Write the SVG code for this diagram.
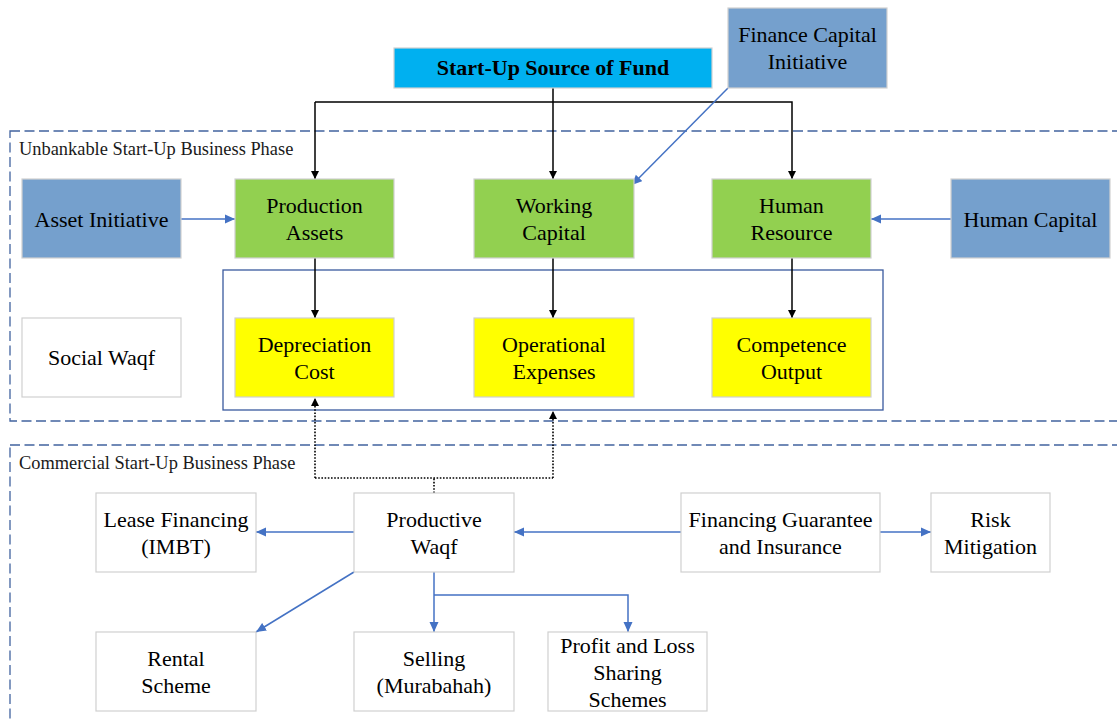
<svg xmlns="http://www.w3.org/2000/svg" width="1117" height="723" viewBox="0 0 1117 723">
  <style>
    .box { stroke: #d0d0d0; stroke-width: 1.2; }
    .t { font-size: 22px; fill: #000; text-anchor: middle; }
    .phase { font-size: 18.4px; fill: #1a1a1a; }
    .dash { fill: none; stroke: #41639f; stroke-width: 1.3; stroke-dasharray: 10 4.5; }
    .blk { fill: none; stroke: #000; stroke-width: 1.5; }
    .blu { fill: none; stroke: #4472c4; stroke-width: 1.5; }
    .dot { fill: none; stroke: #000; stroke-width: 1.6; stroke-dasharray: 1.6 1.6; }
  </style>
  <defs>
    <marker id="ab" viewBox="0 0 10 10" refX="10" refY="5" markerWidth="8" markerHeight="8" markerUnits="userSpaceOnUse" orient="auto">
      <path d="M0,0 L10,5 L0,10 z" fill="#000"/>
    </marker>
    <marker id="au" viewBox="0 0 10 10" refX="10" refY="5" markerWidth="10" markerHeight="10" markerUnits="userSpaceOnUse" orient="auto">
      <path d="M0,0.5 L10,5 L0,9.5 z" fill="#4472c4"/>
    </marker>
  </defs>
  <rect width="1117" height="723" fill="#fff"/>

  <g font-family="'Liberation Serif', 'Times New Roman', serif">
    <!-- phase frames -->
    <g id="phase-unbankable">
      <rect class="dash" x="10" y="131" width="1120" height="290"/>
      <text class="phase" x="19" y="155">Unbankable Start-Up Business Phase</text>
    </g>
    <g id="phase-commercial">
      <rect class="dash" x="10" y="445" width="1120" height="300"/>
      <text class="phase" x="19" y="469">Commercial Start-Up Business Phase</text>
    </g>
    <g id="cost-group">
      <rect x="223" y="270" width="660" height="140" fill="none" stroke="#3a5a9e" stroke-width="1.3"/>
    </g>

    <!-- connectors -->
    <g id="connectors">
      <path class="blk" d="M553,88 V179" marker-end="url(#ab)"/>
      <path class="blk" d="M315,102 H792 V179" marker-end="url(#ab)"/>
      <path class="blk" d="M315,102 V179" marker-end="url(#ab)"/>
      <path class="blk" d="M315,258 V318" marker-end="url(#ab)"/>
      <path class="blk" d="M553,258 V318" marker-end="url(#ab)"/>
      <path class="blk" d="M792,258 V318" marker-end="url(#ab)"/>
      <path class="blu" d="M181,219 H235" marker-end="url(#au)"/>
      <path class="blu" d="M951,219 H871" marker-end="url(#au)"/>
      <path class="blu" d="M728,88 L632,185" marker-end="url(#au)"/>
      <path class="dot" d="M434,493 V478"/>
      <path class="dot" d="M315,478 H553"/>
      <path class="dot" d="M315,478 V398" marker-end="url(#ab)"/>
      <path class="dot" d="M553,478 V411" marker-end="url(#ab)"/>
      <path class="blu" d="M354,532 H256" marker-end="url(#au)"/>
      <path class="blu" d="M681,532 H514" marker-end="url(#au)"/>
      <path class="blu" d="M880,532 H931" marker-end="url(#au)"/>
      <path class="blu" d="M354,572 L256,632" marker-end="url(#au)"/>
      <path class="blu" d="M434,572 V632" marker-end="url(#au)"/>
      <path class="blu" d="M434,595 H628 V632" marker-end="url(#au)"/>
    </g>

    <!-- top row -->
    <g id="start-up-source">
      <rect class="box" x="394" y="48" width="318" height="40" fill="#00b0f0"/>
      <text class="t" x="553" y="75" font-weight="bold">Start-Up Source of Fund</text>
    </g>
    <g id="finance-capital">
      <rect class="box" x="728" y="8" width="159" height="80" fill="#75a0cd"/>
      <text class="t" x="807.5" y="42">Finance Capital</text>
      <text class="t" x="807.5" y="69">Initiative</text>
    </g>

    <!-- unbankable phase -->
    <g id="asset-initiative">
      <rect class="box" x="22" y="179" width="159" height="79" fill="#75a0cd"/>
      <text class="t" x="101.5" y="227">Asset Initiative</text>
    </g>
    <g id="production-assets">
      <rect class="box" x="235" y="179" width="159" height="79" fill="#92d050"/>
      <text class="t" x="314.5" y="213">Production</text>
      <text class="t" x="314.5" y="240">Assets</text>
    </g>
    <g id="working-capital">
      <rect class="box" x="474" y="179" width="160" height="79" fill="#92d050"/>
      <text class="t" x="554" y="213">Working</text>
      <text class="t" x="554" y="240">Capital</text>
    </g>
    <g id="human-resource">
      <rect class="box" x="712" y="179" width="159" height="79" fill="#92d050"/>
      <text class="t" x="791.5" y="213">Human</text>
      <text class="t" x="791.5" y="240">Resource</text>
    </g>
    <g id="human-capital">
      <rect class="box" x="951" y="179" width="159" height="79" fill="#75a0cd"/>
      <text class="t" x="1030.5" y="227">Human Capital</text>
    </g>
    <g id="social-waqf">
      <rect class="box" x="22" y="318" width="159" height="79" fill="#fff"/>
      <text class="t" x="101.5" y="365">Social Waqf</text>
    </g>
    <g id="depreciation-cost">
      <rect class="box" x="235" y="318" width="159" height="79" fill="#ffff00"/>
      <text class="t" x="314.5" y="352">Depreciation</text>
      <text class="t" x="314.5" y="379">Cost</text>
    </g>
    <g id="operational-expenses">
      <rect class="box" x="474" y="318" width="160" height="79" fill="#ffff00"/>
      <text class="t" x="554" y="352">Operational</text>
      <text class="t" x="554" y="379">Expenses</text>
    </g>
    <g id="competence-output">
      <rect class="box" x="712" y="318" width="159" height="79" fill="#ffff00"/>
      <text class="t" x="791.5" y="352">Competence</text>
      <text class="t" x="791.5" y="379">Output</text>
    </g>

    <!-- commercial phase -->
    <g id="lease-financing">
      <rect class="box" x="96" y="493" width="160" height="79" fill="#fff"/>
      <text class="t" x="176" y="527">Lease Financing</text>
      <text class="t" x="176" y="554">(IMBT)</text>
    </g>
    <g id="productive-waqf">
      <rect class="box" x="354" y="493" width="160" height="79" fill="#fff"/>
      <text class="t" x="434" y="527">Productive</text>
      <text class="t" x="434" y="554">Waqf</text>
    </g>
    <g id="financing-guarantee">
      <rect class="box" x="681" y="493" width="199" height="79" fill="#fff"/>
      <text class="t" x="780.5" y="527">Financing Guarantee</text>
      <text class="t" x="780.5" y="554">and Insurance</text>
    </g>
    <g id="risk-mitigation">
      <rect class="box" x="931" y="493" width="119" height="79" fill="#fff"/>
      <text class="t" x="990.5" y="527">Risk</text>
      <text class="t" x="990.5" y="554">Mitigation</text>
    </g>
    <g id="rental-scheme">
      <rect class="box" x="96" y="632" width="160" height="79" fill="#fff"/>
      <text class="t" x="176" y="666">Rental</text>
      <text class="t" x="176" y="693">Scheme</text>
    </g>
    <g id="selling">
      <rect class="box" x="354" y="632" width="160" height="79" fill="#fff"/>
      <text class="t" x="434" y="666">Selling</text>
      <text class="t" x="434" y="693">(Murabahah)</text>
    </g>
    <g id="profit-loss-sharing">
      <rect class="box" x="548" y="632" width="159" height="79" fill="#fff"/>
      <text class="t" x="627.5" y="653">Profit and Loss</text>
      <text class="t" x="627.5" y="680">Sharing</text>
      <text class="t" x="627.5" y="707">Schemes</text>
    </g>
  </g>
</svg>
